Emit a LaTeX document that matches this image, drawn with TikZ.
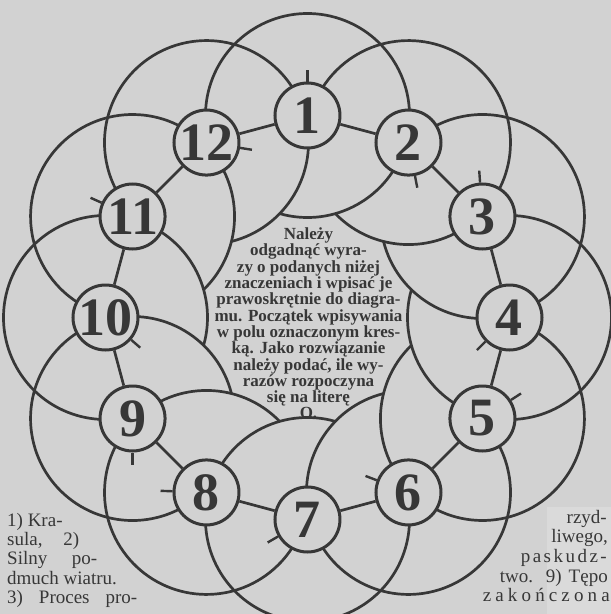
\documentclass[tikz,border=0pt]{standalone}
\usepackage{fontspec}
\setmainfont{Liberation Serif}
\usetikzlibrary{calc}
\definecolor{bg}{RGB}{210,210,210}
\definecolor{bglight}{RGB}{218,218,218}
\definecolor{ink}{RGB}{55,55,55}
\begin{document}
\begin{tikzpicture}[x=1pt,y=1pt,
  bigarc/.style={draw=ink,line width=2.7pt},
  cell/.style={circle,draw=ink,line width=3pt,fill=bg,minimum size=65pt,inner sep=0pt,
    font=\fontsize{54}{54}\selectfont\bfseries,text=ink},
  tickmark/.style={draw=ink,line width=2.4pt},
  ringseg/.style={draw=ink,line width=2.7pt},
  lefttxt/.style={anchor=base west,inner sep=0pt,text=ink,font=\fontsize{19}{19}\selectfont},
  righttxt/.style={anchor=base east,inner sep=0pt,text=ink,font=\fontsize{19}{19}\selectfont},
  centretxt/.style={align=center,inner sep=0pt,text=ink,font=\fontsize{17}{16.3}\selectfont\bfseries}
]
% origin = centre of the ring (pixel 307.5, 317.5)
\fill[bg] (-307.5,317.5) rectangle (303.5,-296.5);
\useasboundingbox (-307.5,317.5) rectangle (303.5,-296.5);
\clip (-307.5,317.5) rectangle (303.5,-296.5);
\fill[bglight] (239.5,-189.5) rectangle (303.5,-296.5);

% large interlaced circles
\foreach \k in {1,...,12}{
  \pgfmathsetmacro{\t}{90-30*(\k-1)}
  \coordinate (p\k) at (\t:202);
  \draw[bigarc] ($(p\k)+(\t+164.17:102)$) arc[start angle=\t+164.17, end angle=\t+465, radius=102];
}

% numbered fields
\foreach \k in {1,...,12}{
  \node[cell] (c\k) at (p\k) {\makebox[0pt]{\k}};
}

% ring segments between neighbouring fields
\foreach \a/\b in {1/2,2/3,3/4,4/5,5/6,6/7,7/8,8/9,9/10,10/11,11/12,12/1}{
  \draw[ringseg] (c\a) -- (c\b);
}

% start marks
\foreach \k/\ang in {1/90,2/-79,3/94,4/-135,5/33,6/159,7/210,8/178,9/-90,10/-41,11/156,12/-9}{
  \draw[tickmark] (c\k.\ang) -- ++(\ang:12);
}

% central text
\node[centretxt] (intro) at (1,-6) {Należy\\odgadnąć wyra-\\zy o podanych niżej\\znaczeniach i wpisać je\\prawoskrętnie do diagra-\\mu. Początek wpisywania\\w polu oznaczonym kres-\\ką. Jako rozwiązanie\\należy podać, ile wy-\\razów rozpoczyna\\się na literę\\O.};

% bottom left text
\node[lefttxt] (l1) at (-300.5,-208.5) {1) Kra-};
\node[lefttxt] (l2) at (-300.5,-227.5) {\makebox[72pt][s]{sula, 2)}};
\node[lefttxt] (l3) at (-300.5,-246.5) {\makebox[90pt][s]{Silny po-}};
\node[lefttxt] (l4) at (-300.5,-266.5) {dmuch wiatru.};
\node[lefttxt] (l5) at (-300.5,-285.5) {\makebox[130pt][s]{3) Proces pro-}};

% bottom right text
\node[righttxt] (r1) at (299.5,-205.5) {rzyd-};
\node[righttxt] (r2) at (300.5,-224.5) {liwego,};
\node[righttxt] (r3) at (299.5,-244.5) {\makebox[86pt]{p\hfill a\hfill s\hfill k\hfill u\hfill d\hfill z\hfill -}};
\node[righttxt] (r4) at (300.5,-264.5) {\makebox[108pt][s]{two. 9) Tępo}};
\node[righttxt] (r5) at (302.5,-283.5) {\makebox[127pt]{z\hfill a\hfill k\hfill o\hfill ń\hfill c\hfill z\hfill o\hfill n\hfill a}};
\end{tikzpicture}
\end{document}
